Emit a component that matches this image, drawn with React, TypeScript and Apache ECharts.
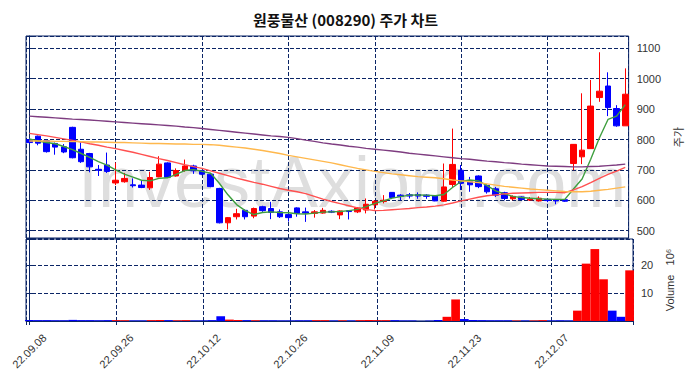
import React, { useEffect, useRef } from 'react';
import * as echarts from 'echarts';

const dates = [
  '22.09.08', '22.09.13', '22.09.14', '22.09.15', '22.09.16', '22.09.19', '22.09.20', '22.09.21', '22.09.22', '22.09.23',
  '22.09.26', '22.09.27', '22.09.28', '22.09.29', '22.09.30', '22.10.04', '22.10.05', '22.10.06', '22.10.07', '22.10.11',
  '22.10.12', '22.10.13', '22.10.14', '22.10.17', '22.10.18', '22.10.19', '22.10.20', '22.10.21', '22.10.24', '22.10.25',
  '22.10.26', '22.10.27', '22.10.28', '22.10.31', '22.11.01', '22.11.02', '22.11.03', '22.11.04', '22.11.07', '22.11.08',
  '22.11.09', '22.11.10', '22.11.11', '22.11.14', '22.11.15', '22.11.16', '22.11.17', '22.11.18', '22.11.21', '22.11.22',
  '22.11.23', '22.11.24', '22.11.25', '22.11.28', '22.11.29', '22.11.30', '22.12.01', '22.12.02', '22.12.05', '22.12.06',
  '22.12.07', '22.12.08', '22.12.09', '22.12.12', '22.12.13', '22.12.14', '22.12.15', '22.12.16', '22.12.19', '22.12.20',
];

const opens = [
  800, 811, 796, 787, 776, 840, 768, 754, 702, 716,
  657, 661, 651, 650, 641, 677, 723, 680, 699, 713,
  697, 686, 639, 526, 546, 567, 548, 579, 573, 562,
  553, 575, 562, 557, 558, 564, 552, 566, 562, 568,
  585, 596, 626, 617, 618, 619, 617, 614, 597, 652,
  699, 661, 680, 649, 638, 625, 605, 611, 601, 598,
  603, 602, 602, 721, 743, 770, 938, 976, 902, 845,
];
const highs = [
  805, 813, 800, 790, 785, 842, 790, 756, 716, 757,
  724, 690, 672, 665, 694, 745, 725, 705, 734, 717,
  700, 688, 641, 545, 572, 570, 576, 582, 595, 570,
  562, 577, 576, 568, 575, 567, 567, 568, 578, 606,
  600, 617, 627, 620, 624, 626, 620, 616, 721, 836,
  716, 677, 682, 653, 644, 628, 616, 613, 611, 613,
  606, 604, 604, 785, 952, 996, 1087, 1021, 913, 1034,
];
const lows = [
  785, 781, 757, 750, 755, 738, 723, 692, 680, 690,
  650, 658, 642, 640, 634, 676, 674, 678, 694, 687,
  684, 643, 524, 504, 537, 537, 541, 562, 538, 542,
  530, 546, 529, 543, 556, 558, 538, 537, 558, 557,
  570, 590, 604, 600, 606, 605, 605, 597, 595, 644,
  634, 628, 640, 622, 611, 600, 600, 600, 598, 596,
  594, 587, 595, 699, 719, 770, 924, 877, 842, 845,
];
const closes = [
  790, 788, 760, 775, 759, 740, 727, 710, 699, 695,
  666, 672, 648, 642, 675, 719, 676, 698, 713, 697,
  686, 645, 526, 543, 556, 546, 573, 566, 560, 546,
  543, 557, 558, 562, 567, 561, 565, 563, 575, 587,
  597, 600, 609, 613, 614, 614, 613, 598, 644, 718,
  656, 651, 645, 628, 617, 606, 613, 603, 604, 607,
  599, 598, 597, 784, 765, 910, 959, 905, 845, 949,
];
// volume in millions of shares
const volumes = [
  0.35, 0.3, 0.3, 0.25, 0.25, 0.4, 0.3, 0.3, 0.25, 0.3,
  0.3, 0.25, 0.2, 0.2, 0.3, 0.35, 0.3, 0.25, 0.3, 0.2,
  0.2, 0.3, 1.7, 0.5, 0.35, 0.3, 0.3, 0.25, 0.25, 0.2,
  0.2, 0.25, 0.25, 0.3, 0.3, 0.2, 0.25, 0.2, 0.3, 0.35,
  0.3, 0.3, 0.3, 0.2, 0.2, 0.05, 0.15, 0.35, 1.5, 7.7,
  0.7, 0.35, 0.3, 0.25, 0.25, 0.25, 0.2, 0.2, 0.2, 0.3,
  0.2, 0.25, 0.2, 3.7, 20.5, 25.7, 14.9, 3.7, 1.5, 18.1,
];
const ma5 = [
  802, 795, 790, 786, 777, 767, 754, 741, 727, 716,
  700, 686, 676, 666, 664, 672, 674, 685, 698, 701,
  695, 689, 656, 618, 586, 566, 553, 560, 562, 560,
  559, 556, 555, 558, 561, 562, 563, 566, 570, 579,
  590, 598, 607, 612, 617, 618, 617, 615, 619, 642,
  662, 667, 664, 648, 631, 621, 613, 609, 607, 605,
  604, 603, 603, 637, 670, 735, 805, 866, 877, 915,
];
const ma20 = [
  820, 816, 812, 807, 802, 797, 792, 786, 781, 775,
  770, 764, 758, 751, 744, 737, 731, 724, 717, 711,
  705, 697, 689, 681, 673, 666, 659, 653, 646, 639,
  633, 628, 622, 613, 604, 596, 589, 582, 575, 570,
  566, 567, 569, 571, 573, 576, 578, 581, 585, 591,
  598, 604, 610, 615, 618, 621, 623, 624, 625, 626,
  626, 626, 625, 634, 645, 658, 672, 685, 696, 708,
];
const ma60 = [
  795, 795, 795, 794, 794, 793, 793, 792, 792, 791,
  790, 790, 789, 788, 787, 787, 786, 785, 785, 784,
  784, 783, 781, 778, 775, 772, 768, 764, 759, 754,
  748, 743, 738, 733, 728, 723, 717, 711, 705, 700,
  695, 691, 687, 684, 681, 678, 676, 674, 671, 667,
  664, 661, 658, 654, 650, 646, 643, 640, 637, 635,
  633, 631, 629, 628, 628, 630, 633, 636, 640, 644,
];
const ma120 = [
  877, 875, 873, 871, 869, 867, 866, 864, 862, 860,
  858, 856, 854, 852, 850, 848, 846, 844, 841, 839,
  836, 833, 830, 827, 824, 821, 818, 815, 812, 810,
  807, 803, 798, 794, 789, 785, 782, 778, 775, 771,
  768, 765, 762, 759, 755, 752, 749, 746, 743, 740,
  737, 735, 732, 729, 727, 724, 722, 719, 717, 715,
  713, 712, 711, 710, 710, 711, 712, 714, 716, 719,
];

const UP = '#ff0000';
const DOWN = '#0000ff';
const NAVY = '#0b2566';
const FONT = 'Liberation Sans';

export default function App() {
  const ref = useRef<HTMLDivElement>(null);
  useEffect(() => {
    const chart = echarts.init(ref.current!, null, { renderer: 'svg' });
    const idx = dates.map((_, i) => i);
    const candleData = idx.map((i) => [i, opens[i], closes[i], lows[i], highs[i]]);
    const volData = idx.map((i) => ({
      value: [i, volumes[i]],
      itemStyle: { color: closes[i] >= opens[i] ? UP : DOWN },
    }));
    const line = (arr: number[]) => idx.map((i) => [i, arr[i]]);
    const dashed = { show: true, lineStyle: { color: NAVY, type: [4, 2], width: 1 } };
    const xCommon = {
      type: 'value',
      min: -0.38,
      max: 69.39,
      minInterval: 10,
      maxInterval: 10,
      splitLine: dashed,
    };
    const lineSeries = (name: string, arr: number[], color: string) => ({
      type: 'line',
      name,
      data: line(arr),
      xAxisIndex: 0,
      yAxisIndex: 0,
      showSymbol: false,
      symbol: 'none',
      lineStyle: { color, width: 1.4 },
      z: 4,
    });
    const option: any = {
      animation: false,
      backgroundColor: '#ffffff',
      title: {
        text: '원풍물산 (008290) 주가 차트',
        left: 'center',
        top: 7,
        textStyle: { fontFamily: 'Noto Sans CJK KR', fontSize: 15, fontWeight: 'bold', color: '#111' },
      },
      graphic: [
        {
          type: 'text',
          left: 78,
          top: 146,
          z: -1,
          silent: true,
          style: {
            text: 'InvestAxiom.com',
            fontFamily: FONT,
            fontSize: 72,
            fill: '#dedede',
          },
        },
      ],
      grid: [
        { left: 26, right: 58, top: 36, height: 202, show: true, borderColor: NAVY, borderWidth: 1 },
        { left: 26, right: 58, top: 239, height: 82, show: true, borderColor: NAVY, borderWidth: 1 },
      ],
      xAxis: [
        {
          ...xCommon,
          gridIndex: 0,
          axisLine: { show: false },
          axisTick: { show: false },
          axisLabel: { show: false },
        },
        {
          ...xCommon,
          gridIndex: 1,
          axisLine: { show: true, lineStyle: { color: NAVY } },
          axisTick: { show: true, length: 4, lineStyle: { color: NAVY } },
          axisLabel: {
            show: true,
            rotate: 45,
            align: 'center',
            verticalAlign: 'middle',
            margin: 30,
            fontFamily: FONT,
            fontSize: 11,
            color: '#333',
            formatter: (v: number) => (Number.isInteger(v) && v >= 0 && v < dates.length ? dates[v] : ''),
          },
        },
      ],
      yAxis: [
        {
          type: 'value',
          gridIndex: 0,
          position: 'right',
          min: 476,
          max: 1140.5,
          minInterval: 100,
          maxInterval: 100,
          splitLine: dashed,
          axisLine: { show: true, lineStyle: { color: NAVY } },
          axisTick: { show: true, length: 4, lineStyle: { color: NAVY } },
          axisLabel: {
            fontFamily: FONT,
            fontSize: 11,
            color: '#333',
            margin: 8,
            formatter: (v: number) => (v % 100 === 0 ? String(v) : ''),
          },
          name: '주가',
          nameLocation: 'middle',
          nameRotate: 90,
          nameGap: 36,
          nameTextStyle: { fontFamily: 'Noto Sans CJK KR', fontSize: 11, color: '#333' },
        },
        {
          type: 'value',
          gridIndex: 1,
          position: 'right',
          min: 0,
          max: 29.3,
          minInterval: 10,
          maxInterval: 10,
          splitLine: dashed,
          axisLine: { show: true, lineStyle: { color: NAVY } },
          axisTick: { show: true, length: 4, lineStyle: { color: NAVY } },
          axisLabel: {
            fontFamily: FONT,
            fontSize: 11,
            color: '#333',
            margin: 8,
            formatter: (v: number) => (v === 10 || v === 20 ? String(v) : ''),
          },
          name: 'Volume   10⁶',
          nameLocation: 'middle',
          nameRotate: 90,
          nameGap: 31,
          nameTextStyle: { fontFamily: FONT, fontSize: 11, color: '#333' },
        },
      ],
      series: [
        {
          type: 'candlestick',
          name: 'price',
          xAxisIndex: 0,
          yAxisIndex: 0,
          data: candleData,
          encode: { x: 0, y: [1, 2, 3, 4] },
          barWidth: 6,
          itemStyle: { color: UP, color0: DOWN, borderColor: UP, borderColor0: DOWN, borderWidth: 1 },
          z: 3,
        },
        lineSeries('MA5', ma5, '#3f9f3f'),
        lineSeries('MA20', ma20, '#ff5050'),
        lineSeries('MA60', ma60, '#ffb84d'),
        lineSeries('MA120', ma120, '#7e3c80'),
        {
          type: 'bar',
          name: 'volume',
          xAxisIndex: 1,
          yAxisIndex: 1,
          data: volData,
          barWidth: '100%',
          z: 3,
        },
      ],
    };
    chart.setOption(option);
    return () => chart.dispose();
  }, []);
  return <div ref={ref} style={{ position: 'absolute', left: 0, top: 0, width: 691, height: 378 }} />;
}
